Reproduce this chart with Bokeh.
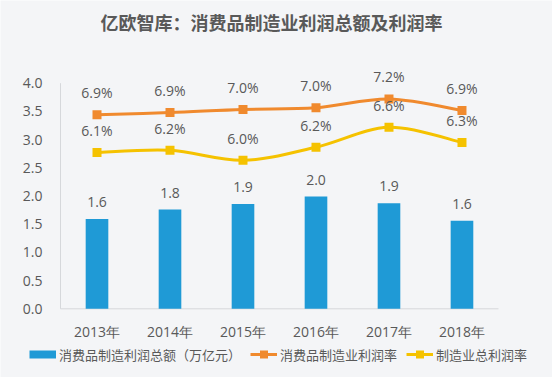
import numpy as np
from bokeh.plotting import figure
from bokeh.models import (ColumnDataSource, Range1d, Legend, LegendItem, LabelSet, Label)
from bokeh.core.properties import value
from bokeh.embed import file_html
from bokeh.resources import INLINE

# ---- data ----
years = ["2013年", "2014年", "2015年", "2016年", "2017年", "2018年"]
profit_total = [1.59, 1.76, 1.86, 1.99, 1.87, 1.56]          # 万亿元
consumer_rate = [6.86, 6.90, 6.96, 6.99, 7.16, 6.94]         # %
mfg_rate = [6.14, 6.18, 5.99, 6.24, 6.62, 6.33]              # %
y_tick_values = [0.0, 0.5, 1.0, 1.5, 2.0, 2.5, 3.0, 3.5, 4.0]
y_tick_labels = ["0.0", "0.5", "1.0", "1.5", "2.0", "2.5", "3.0", "3.5", "4.0"]

TITLE = "亿欧智库：消费品制造业利润总额及利润率"
LEG_BAR = "消费品制造利润总额（万亿元）"
LEG_ORANGE = "消费品制造业利润率"
LEG_YELLOW = "制造业总利润率"

BAR_C = "#1f9ad6"
ORANGE_C = "#f08a2e"
YELLOW_C = "#f5c200"
TEXT_C = "#595959"
AXIS_C = "#d6d8db"
BG = "#f4f5f7"
NUM_FONT = "Open Sans"
CJK_FONT = "Noto Sans CJK SC"

xs = list(range(len(years)))

# scales: the plotting frame covers the whole canvas so that every text fits in it
X_RANGE = (-1.322, 6.240)
Y_RANGE = (-1.218, 5.466)
RATE_PER_UNIT = 1.075      # hidden secondary scale for the rate lines
RATE_AT_ZERO = 3.16

p = figure(width=552, height=377, output_backend="svg", toolbar_location=None,
           x_range=Range1d(*X_RANGE), y_range=Range1d(*Y_RANGE),
           x_axis_type=None, y_axis_type=None,
           min_border_left=0, min_border_right=0, min_border_top=0, min_border_bottom=0)
p.extra_y_ranges = {"rate": Range1d(RATE_AT_ZERO + RATE_PER_UNIT * Y_RANGE[0],
                                    RATE_AT_ZERO + RATE_PER_UNIT * Y_RANGE[1])}
p.background_fill_color = BG
p.border_fill_color = BG
p.outline_line_color = None
p.grid.grid_line_color = None

x_lo, x_hi = -0.5, len(years) - 0.5
y_lo, y_hi = y_tick_values[0], y_tick_values[-1]

# axis lines
p.segment(x0=[x_lo, x_lo], y0=[y_lo, y_lo], x1=[x_lo, x_hi], y1=[y_hi, y_lo],
          line_color=AXIS_C, line_width=1)

# y tick labels
ysrc = ColumnDataSource(dict(x=[x_lo] * len(y_tick_values), y=y_tick_values, t=y_tick_labels))
p.add_layout(LabelSet(x="x", y="y", text="t", source=ysrc, text_align="right",
                      text_baseline="middle", x_offset=-18, text_font_size="14px",
                      text_font=value(NUM_FONT), text_color=TEXT_C))
# x tick labels
xsrc = ColumnDataSource(dict(x=xs, y=[y_lo] * len(xs), t=years))
p.add_layout(LabelSet(x="x", y="y", text="t", source=xsrc, text_align="center",
                      text_baseline="middle", y_offset=-23, text_font_size="14px",
                      text_font=value(NUM_FONT), text_color=TEXT_C))

# title
p.add_layout(Label(x=2.39, y=5.08, text=TITLE, text_align="center", text_baseline="middle",
                   text_font=CJK_FONT, text_font_size="18px", text_font_style="bold",
                   text_color=TEXT_C))

# bars
src_bar = ColumnDataSource(dict(x=xs, y=profit_total,
                                lab=[f"{v:.1f}" for v in profit_total]))
p.vbar(x="x", top="y", width=0.31, source=src_bar, fill_color=BAR_C, line_color=None)
p.add_layout(LabelSet(x="x", y="y", text="lab", source=src_bar, text_align="center",
                      text_baseline="middle", y_offset=17, text_font_size="14px",
                      text_font=value(NUM_FONT), text_color=TEXT_C))


def smooth_line(ys, color):
    n = len(ys)
    pts = list(zip(xs, ys))
    x0, y0, x1, y1, cx0, cy0, cx1, cy1 = ([] for _ in range(8))
    for i in range(n - 1):
        pm = pts[i - 1] if i > 0 else pts[i]
        pa = pts[i]
        pb = pts[i + 1]
        pn = pts[i + 2] if i + 2 < n else pts[i + 1]
        x0.append(pa[0]); y0.append(pa[1]); x1.append(pb[0]); y1.append(pb[1])
        cx0.append(pa[0] + (pb[0] - pm[0]) / 6); cy0.append(pa[1] + (pb[1] - pm[1]) / 6)
        cx1.append(pb[0] - (pn[0] - pa[0]) / 6); cy1.append(pb[1] - (pn[1] - pa[1]) / 6)
    p.bezier(x0=x0, y0=y0, x1=x1, y1=y1, cx0=cx0, cy0=cy0, cx1=cx1, cy1=cy1,
             line_color=color, line_width=3, y_range_name="rate")
    src = ColumnDataSource(dict(x=xs, y=ys, lab=[f"{v:.1f}%" for v in ys]))
    p.scatter("x", "y", source=src, marker="square", size=9, fill_color=color,
              line_color=None, y_range_name="rate")
    p.add_layout(LabelSet(x="x", y="y", text="lab", source=src, text_align="center",
                          text_baseline="middle", y_offset=22, text_font_size="14px",
                          text_font=value(NUM_FONT), text_color=TEXT_C, y_range_name="rate"))


smooth_line(consumer_rate, ORANGE_C)
smooth_line(mfg_rate, YELLOW_C)

# legend proxies (NaN data: nothing drawn in the plot, only their legend swatches)
nan = np.array([np.nan])
lb = p.line(x=nan, y=nan, line_color=BAR_C, line_width=8)
lo_l = p.line(x=nan, y=nan, line_color=ORANGE_C, line_width=3)
lo_m = p.scatter(x=nan, y=nan, marker="square", fill_color=ORANGE_C, line_color=None)
ly_l = p.line(x=nan, y=nan, line_color=YELLOW_C, line_width=3)
ly_m = p.scatter(x=nan, y=nan, marker="square", fill_color=YELLOW_C, line_color=None)

legend = Legend(items=[LegendItem(label=LEG_BAR, renderers=[lb]),
                       LegendItem(label=LEG_ORANGE, renderers=[lo_l, lo_m]),
                       LegendItem(label=LEG_YELLOW, renderers=[ly_l, ly_m])],
                orientation="horizontal", location=(29, 13),
                background_fill_alpha=0, border_line_alpha=0,
                label_text_font=CJK_FONT, label_text_font_size="13px", label_text_color=TEXT_C,
                glyph_width=27, glyph_height=20, label_standoff=3, spacing=9,
                padding=0, margin=0, label_height=20)
p.add_layout(legend, "center")

open("out.html", "w").write(file_html(p, INLINE))
